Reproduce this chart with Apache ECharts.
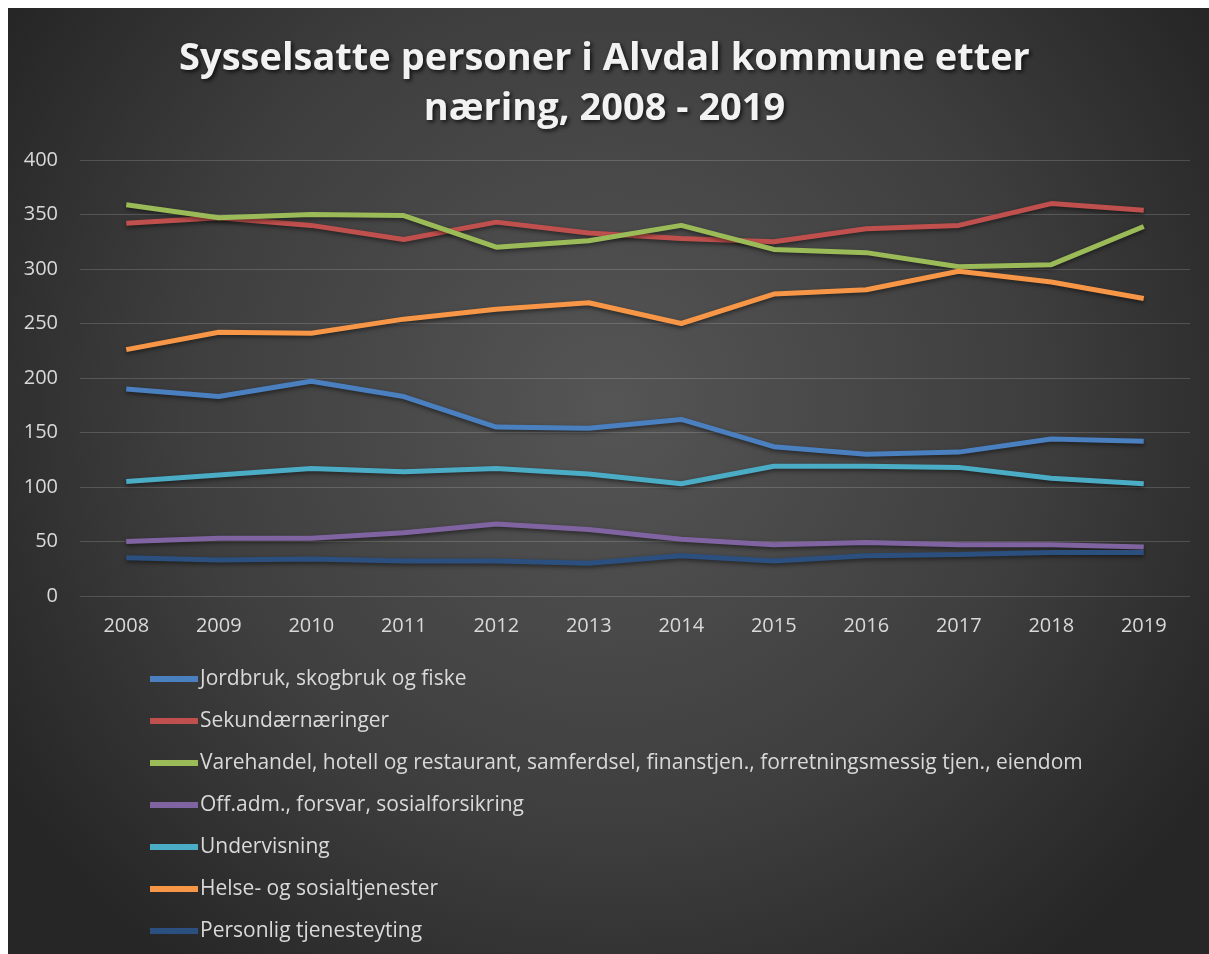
<!DOCTYPE html>
<html>
<head>
<meta charset="utf-8">
<script src="https://cdn.jsdelivr.net/npm/echarts@6/dist/echarts.min.js"></script>
<style>
html,body{margin:0;padding:0;background:#fff;}
#chart{width:1209px;height:954px;}
</style>
</head>
<body>
<div id="chart"></div>
<script>
const years = ['2008','2009','2010','2011','2012','2013','2014','2015','2016','2017','2018','2019'];
const seriesNames = [
  'Jordbruk, skogbruk og fiske',
  'Sekundærnæringer',
  'Varehandel, hotell og restaurant, samferdsel, finanstjen., forretningsmessig tjen., eiendom',
  'Off.adm., forsvar, sosialforsikring',
  'Undervisning',
  'Helse- og sosialtjenester',
  'Personlig tjenesteyting'
];
const jordbruk   = [190, 183, 197, 183, 155, 154, 162, 137, 130, 132, 144, 142];
const sekundaer  = [342, 347, 340, 327, 343, 333, 328, 325, 337, 340, 360, 354];
const varehandel = [359, 347, 350, 349, 320, 326, 340, 318, 315, 302, 304, 339];
const offadm     = [50, 53, 53, 58, 66, 61, 52, 47, 49, 47, 47, 45];
const undervis   = [105, 111, 117, 114, 117, 112, 103, 119, 119, 118, 108, 103];
const helse      = [226, 242, 241, 254, 263, 269, 250, 277, 281, 298, 288, 273];
const personlig  = [35, 33, 34, 32, 32, 30, 37, 32, 37, 38, 40, 40];
const yTicks = [0, 50, 100, 150, 200, 250, 300, 350, 400];

const colors = ['#4a7fc0', '#c0504d', '#9bbb59', '#8064a2', '#4bacc6', '#f79646', '#2b5080'];
const values = [jordbruk, sekundaer, varehandel, offadm, undervis, helse, personlig];

const chart = echarts.init(document.getElementById('chart'));
const FONT = '"Open Sans", Lato, sans-serif';

chart.setOption({
  animation: false,
  color: colors,
  graphic: [{
    type: 'rect',
    z: -10,
    shape: {x: 8, y: 8, width: 1201, height: 946},
    style: {
      fill: {
        type: 'radial', x: 0.5, y: 0.42, r: 0.75,
        colorStops: [
          {offset: 0, color: '#555555'},
          {offset: 0.6, color: '#3e3e3e'},
          {offset: 1, color: '#262626'}
        ]
      }
    }
  }],
  title: {
    text: 'Sysselsatte personer i Alvdal kommune etter\nnæring, 2008 - 2019',
    left: 'center',
    top: 29,
    textStyle: {
      color: '#f2f2f2',
      fontFamily: FONT,
      fontWeight: 'bold',
      fontSize: 38,
      lineHeight: 50,
      textShadowColor: 'rgba(0,0,0,0.75)',
      textShadowBlur: 4,
      textShadowOffsetX: 2,
      textShadowOffsetY: 2
    }
  },
  grid: {left: 80, right: 19, top: 160, bottom: 358, containLabel: false},
  xAxis: {
    type: 'category',
    data: years,
    boundaryGap: true,
    axisLine: {show: false},
    axisTick: {show: false},
    axisLabel: {color: '#d9d9d9', fontFamily: FONT, fontSize: 20, margin: 20}
  },
  yAxis: {
    type: 'value',
    min: 0, max: 400, interval: 50,
    axisLine: {show: false},
    axisTick: {show: false},
    axisLabel: {color: '#d9d9d9', fontFamily: FONT, fontSize: 20, margin: 22},
    splitLine: {lineStyle: {color: 'rgba(255,255,255,0.16)', width: 1}}
  },
  legend: {
    orient: 'vertical',
    left: 145,
    top: 663,
    itemWidth: 48,
    itemHeight: 6,
    itemGap: 20,
    icon: 'rect',
    textStyle: {color: '#d9d9d9', fontFamily: FONT, fontSize: 21, lineHeight: 22, padding: [0,0,0,-3]},
    data: seriesNames
  },
  series: seriesNames.map((n, i) => ({
    name: n,
    type: 'line',
    data: values[i],
    symbol: 'none',
    lineStyle: {width: 5, color: colors[i], shadowColor: 'rgba(0,0,0,0.5)', shadowBlur: 4, shadowOffsetY: 2},
    itemStyle: {color: colors[i]}
  }))
});
</script>
</body>
</html>
